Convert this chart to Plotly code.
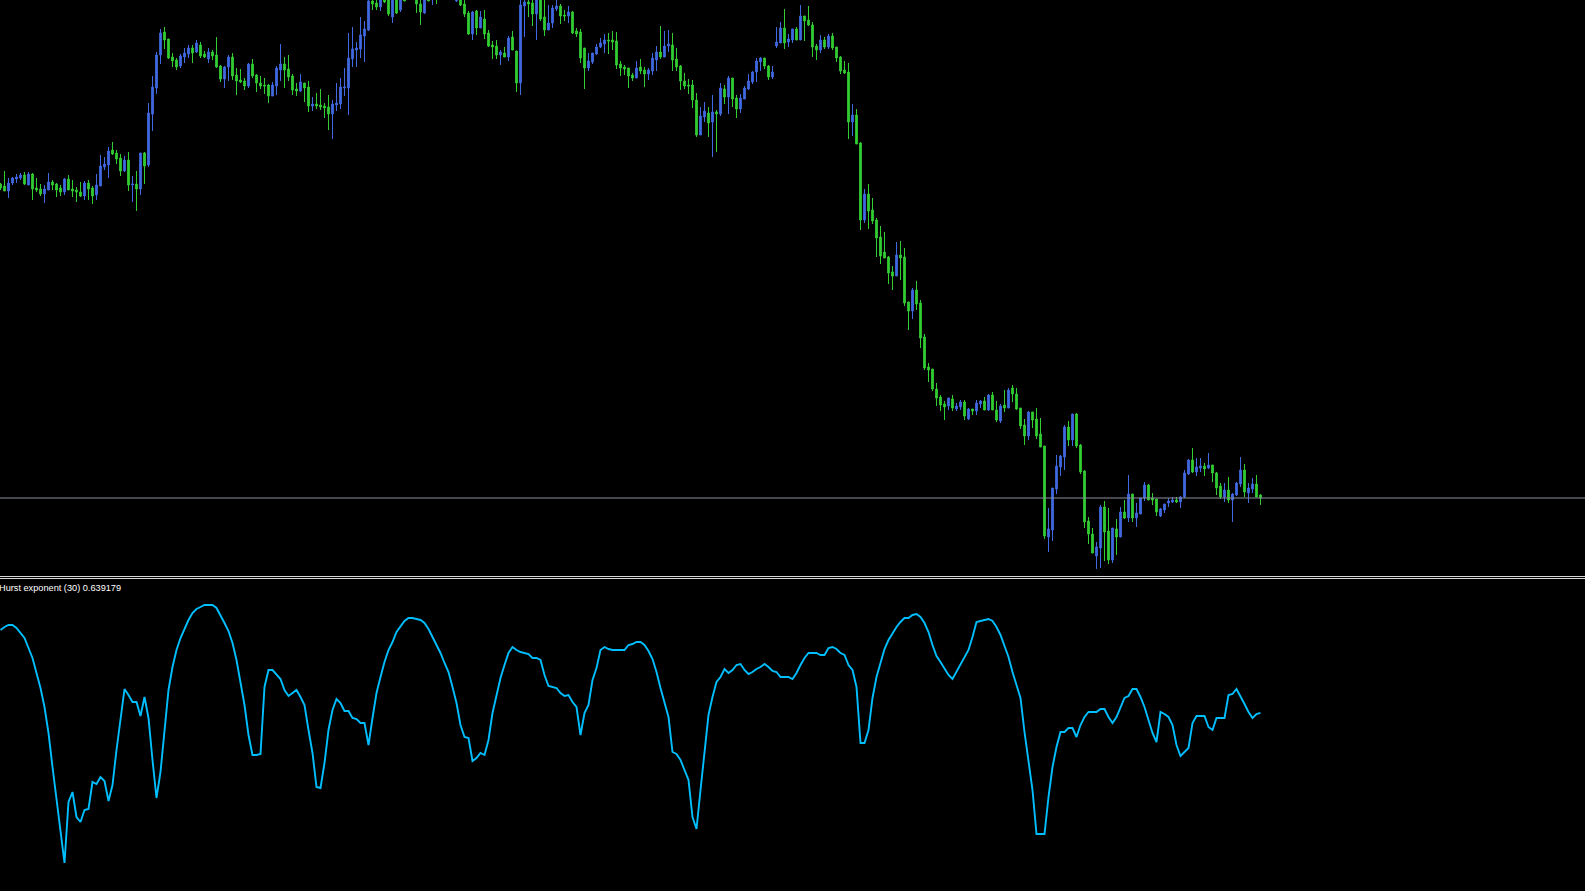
import plotly.graph_objects as go

# ---- price bars (one per candle, left to right) ----
open_ = [
 1.1416,1.1414,1.1409,1.1417,1.1421,1.1422,1.1425,1.1415,1.1426,1.1412,
 1.1411,1.1406,1.1410,1.1418,1.1416,1.1412,1.1408,1.1421,1.1411,1.1410,
 1.1408,1.1404,1.1417,1.1412,1.1405,1.1414,1.1433,1.1435,1.1450,1.1447,
 1.1442,1.1429,1.1440,1.1415,1.1416,1.1411,1.1447,1.1435,1.1486,1.1512,
 1.1545,1.1568,1.1561,1.1543,1.1540,1.1534,1.1543,1.1546,1.1552,1.1548,
 1.1555,1.1546,1.1541,1.1548,1.1545,1.1534,1.1521,1.1533,1.1543,1.1525,
 1.1520,1.1519,1.1514,1.1536,1.1525,1.1517,1.1515,1.1515,1.1504,1.1514,
 1.1530,1.1536,1.1531,1.1524,1.1511,1.1509,1.1517,1.1513,1.1494,1.1496,
 1.1495,1.1494,1.1493,1.1486,1.1495,1.1496,1.1512,1.1512,1.1541,1.1550,
 1.1551,1.1564,1.1570,1.1599,1.1597,1.1593,1.1605,1.1602,1.1583,1.1604,
 1.1590,1.1606,1.1608,1.1606,1.1606,1.1596,1.1587,1.1604,1.1602,1.1606,
 1.1610,1.1606,1.1609,1.1605,1.1599,1.1602,1.1596,1.1587,1.1566,1.1589,
 1.1572,1.1581,1.1567,1.1555,1.1554,1.1545,1.1547,1.1543,1.1563,1.1549,
 1.1517,1.1594,1.1598,1.1597,1.1586,1.1603,1.1583,1.1570,1.1577,1.1591,
 1.1594,1.1585,1.1584,1.1588,1.1569,1.1568,1.1552,1.1532,1.1538,1.1546,
 1.1553,1.1556,1.1560,1.1560,1.1559,1.1536,1.1533,1.1532,1.1525,1.1522,
 1.1533,1.1530,1.1526,1.1529,1.1540,1.1548,1.1543,1.1554,1.1555,1.1541,
 1.1534,1.1519,1.1515,1.1515,1.1500,1.1465,1.1483,1.1487,1.1478,1.1488,
 1.1486,1.1511,1.1503,1.1522,1.1502,1.1491,1.1501,1.1511,1.1518,1.1528,
 1.1538,1.1542,1.1534,1.1523,1.1554,1.1557,1.1572,1.1558,1.1560,1.1571,
 1.1560,1.1584,1.1580,1.1575,1.1554,1.1550,1.1560,1.1553,1.1564,1.1553,
 1.1543,1.1530,1.1528,1.1478,1.1485,1.1457,1.1380,1.1406,1.1390,1.1380,
 1.1363,1.1348,1.1343,1.1328,1.1324,1.1345,1.1343,1.1298,1.1289,1.1310,
 1.1297,1.1263,1.1233,1.1231,1.1211,1.1203,1.1196,1.1194,1.1201,1.1191,
 1.1193,1.1198,1.1181,1.1191,1.1189,1.1196,1.1199,1.1190,1.1205,1.1190,
 1.1179,1.1195,1.1192,1.1212,1.1206,1.1192,1.1175,1.1164,1.1188,1.1181,
 1.1166,1.1154,1.1063,1.1070,1.1111,1.1133,1.1143,1.1173,1.1160,1.1186,
 1.1155,1.1129,1.1079,1.1066,1.1044,1.1052,1.1093,1.1069,1.1040,1.1071,
 1.1063,1.1088,1.1082,1.1106,1.1082,1.1086,1.1102,1.1115,1.1102,1.1101,
 1.1084,1.1090,1.1097,1.1098,1.1100,1.1098,1.1103,1.1126,1.1140,1.1128,
 1.1132,1.1134,1.1132,1.1135,1.1127,1.1114,1.1103,1.1110,1.1100,1.1105,
 1.1116,1.1130,1.1107,1.1111,1.1116,1.1105]

close = [
 1.1412,1.1409,1.1417,1.1422,1.1423,1.1425,1.1416,1.1426,1.1411,1.1410,
 1.1406,1.1411,1.1418,1.1415,1.1410,1.1408,1.1421,1.1410,1.1409,1.1408,
 1.1404,1.1417,1.1411,1.1404,1.1415,1.1434,1.1436,1.1449,1.1446,1.1441,
 1.1429,1.1440,1.1415,1.1416,1.1411,1.1447,1.1434,1.1487,1.1513,1.1545,
 1.1567,1.1560,1.1542,1.1539,1.1533,1.1544,1.1547,1.1552,1.1547,1.1557,
 1.1544,1.1543,1.1548,1.1544,1.1533,1.1521,1.1533,1.1543,1.1524,1.1519,
 1.1518,1.1514,1.1536,1.1524,1.1517,1.1514,1.1514,1.1504,1.1515,1.1532,
 1.1536,1.1530,1.1523,1.1510,1.1509,1.1518,1.1512,1.1494,1.1496,1.1494,
 1.1493,1.1492,1.1486,1.1496,1.1497,1.1513,1.1513,1.1542,1.1551,1.1552,
 1.1565,1.1571,1.1599,1.1596,1.1593,1.1601,1.1598,1.1586,1.1603,1.1587,
 1.1602,1.1599,1.1604,1.1603,1.1596,1.1588,1.1602,1.1599,1.1608,1.1601,
 1.1606,1.1609,1.1605,1.1603,1.1604,1.1595,1.1586,1.1566,1.1588,1.1572,
 1.1583,1.1566,1.1554,1.1553,1.1545,1.1548,1.1543,1.1562,1.1550,1.1517,
 1.1595,1.1598,1.1596,1.1586,1.1601,1.1581,1.1570,1.1577,1.1592,1.1594,
 1.1584,1.1584,1.1588,1.1567,1.1566,1.1542,1.1532,1.1539,1.1547,1.1553,
 1.1557,1.1560,1.1559,1.1558,1.1535,1.1532,1.1531,1.1524,1.1522,1.1532,
 1.1529,1.1526,1.1530,1.1542,1.1548,1.1543,1.1554,1.1556,1.1540,1.1533,
 1.1519,1.1514,1.1514,1.1500,1.1465,1.1484,1.1489,1.1477,1.1488,1.1486,
 1.1512,1.1503,1.1522,1.1501,1.1491,1.1502,1.1512,1.1519,1.1528,1.1539,
 1.1542,1.1534,1.1523,1.1528,1.1558,1.1572,1.1557,1.1561,1.1571,1.1560,
 1.1584,1.1579,1.1575,1.1553,1.1550,1.1560,1.1553,1.1564,1.1552,1.1542,
 1.1529,1.1527,1.1478,1.1485,1.1456,1.1380,1.1406,1.1389,1.1379,1.1362,
 1.1344,1.1342,1.1327,1.1324,1.1345,1.1342,1.1297,1.1289,1.1310,1.1296,
 1.1262,1.1232,1.1230,1.1211,1.1202,1.1195,1.1193,1.1202,1.1192,1.1194,
 1.1198,1.1184,1.1191,1.1189,1.1197,1.1199,1.1190,1.1205,1.1190,1.1180,
 1.1194,1.1192,1.1210,1.1206,1.1191,1.1174,1.1164,1.1188,1.1180,1.1164,
 1.1153,1.1064,1.1071,1.1112,1.1134,1.1144,1.1173,1.1160,1.1186,1.1154,
 1.1128,1.1078,1.1066,1.1047,1.1053,1.1093,1.1068,1.1040,1.1072,1.1063,
 1.1088,1.1082,1.1106,1.1082,1.1087,1.1102,1.1115,1.1100,1.1100,1.1088,
 1.1091,1.1096,1.1099,1.1100,1.1098,1.1103,1.1127,1.1140,1.1128,1.1133,
 1.1134,1.1131,1.1135,1.1127,1.1112,1.1103,1.1110,1.1100,1.1106,1.1117,
 1.1130,1.1108,1.1112,1.1116,1.1103,1.1102]

high = [
 1.1417,1.1429,1.1422,1.1423,1.1426,1.1427,1.1428,1.1428,1.1427,1.1422,
 1.1416,1.1415,1.1427,1.1420,1.1417,1.1415,1.1422,1.1425,1.1420,1.1413,
 1.1418,1.1419,1.1420,1.1414,1.1426,1.1445,1.1443,1.1453,1.1458,1.1450,
 1.1446,1.1444,1.1448,1.1424,1.1429,1.1447,1.1448,1.1497,1.1524,1.1548,
 1.1571,1.1573,1.1561,1.1547,1.1542,1.1546,1.1552,1.1555,1.1555,1.1560,
 1.1558,1.1549,1.1552,1.1550,1.1563,1.1535,1.1534,1.1545,1.1547,1.1532,
 1.1531,1.1522,1.1537,1.1541,1.1526,1.1524,1.1522,1.1516,1.1518,1.1534,
 1.1556,1.1543,1.1545,1.1526,1.1517,1.1526,1.1517,1.1519,1.1503,1.1507,
 1.1511,1.1497,1.1505,1.1500,1.1517,1.1522,1.1532,1.1567,1.1573,1.1558,
 1.1583,1.1579,1.1602,1.1603,1.1601,1.1603,1.1608,1.1606,1.1606,1.1607,
 1.1605,1.1608,1.1612,1.1610,1.1609,1.1603,1.1606,1.1607,1.1610,1.1609,
 1.1614,1.1613,1.1612,1.1609,1.1607,1.1605,1.1600,1.1589,1.1589,1.1590,
 1.1589,1.1590,1.1570,1.1559,1.1560,1.1550,1.1553,1.1564,1.1569,1.1549,
 1.1601,1.1602,1.1603,1.1602,1.1604,1.1605,1.1601,1.1595,1.1595,1.1600,
 1.1596,1.1590,1.1594,1.1589,1.1572,1.1571,1.1552,1.1547,1.1547,1.1556,
 1.1562,1.1566,1.1567,1.1569,1.1568,1.1539,1.1535,1.1532,1.1527,1.1539,
 1.1541,1.1533,1.1532,1.1547,1.1554,1.1574,1.1569,1.1570,1.1567,1.1552,
 1.1535,1.1527,1.1521,1.1520,1.1507,1.1493,1.1498,1.1493,1.1505,1.1490,
 1.1517,1.1515,1.1524,1.1522,1.1505,1.1506,1.1514,1.1526,1.1529,1.1542,
 1.1543,1.1542,1.1535,1.1534,1.1573,1.1578,1.1591,1.1566,1.1571,1.1573,
 1.1595,1.1584,1.1594,1.1578,1.1556,1.1565,1.1563,1.1566,1.1567,1.1553,
 1.1544,1.1539,1.1537,1.1496,1.1491,1.1458,1.1411,1.1416,1.1402,1.1382,
 1.1374,1.1368,1.1344,1.1334,1.1358,1.1359,1.1352,1.1298,1.1312,1.1319,
 1.1300,1.1266,1.1237,1.1231,1.1217,1.1205,1.1199,1.1202,1.1205,1.1197,
 1.1200,1.1200,1.1192,1.1191,1.1200,1.1200,1.1203,1.1206,1.1208,1.1199,
 1.1196,1.1210,1.1212,1.1215,1.1212,1.1192,1.1181,1.1189,1.1188,1.1192,
 1.1182,1.1154,1.1092,1.1112,1.1145,1.1145,1.1175,1.1179,1.1186,1.1187,
 1.1156,1.1130,1.1083,1.1072,1.1058,1.1095,1.1099,1.1092,1.1072,1.1081,
 1.1093,1.1100,1.1125,1.1106,1.1097,1.1102,1.1118,1.1116,1.1107,1.1101,
 1.1092,1.1096,1.1102,1.1103,1.1103,1.1104,1.1130,1.1141,1.1152,1.1142,
 1.1142,1.1137,1.1147,1.1135,1.1128,1.1117,1.1117,1.1123,1.1107,1.1118,
 1.1143,1.1136,1.1117,1.1122,1.1125,1.1106]

low = [
 1.1410,1.1409,1.1402,1.1415,1.1417,1.1420,1.1415,1.1415,1.1400,1.1408,
 1.1404,1.1397,1.1410,1.1410,1.1403,1.1404,1.1405,1.1410,1.1403,1.1398,
 1.1403,1.1400,1.1400,1.1396,1.1400,1.1414,1.1430,1.1422,1.1445,1.1436,
 1.1424,1.1428,1.1409,1.1398,1.1389,1.1405,1.1416,1.1433,1.1469,1.1506,
 1.1536,1.1551,1.1541,1.1533,1.1530,1.1532,1.1537,1.1542,1.1537,1.1547,
 1.1542,1.1542,1.1537,1.1540,1.1532,1.1518,1.1512,1.1519,1.1520,1.1505,
 1.1517,1.1510,1.1512,1.1522,1.1508,1.1511,1.1506,1.1497,1.1504,1.1505,
 1.1519,1.1512,1.1519,1.1505,1.1504,1.1508,1.1498,1.1488,1.1489,1.1491,
 1.1490,1.1482,1.1470,1.1461,1.1489,1.1491,1.1504,1.1485,1.1533,1.1533,
 1.1542,1.1538,1.1569,1.1590,1.1590,1.1589,1.1597,1.1584,1.1577,1.1586,
 1.1588,1.1599,1.1602,1.1601,1.1587,1.1575,1.1586,1.1599,1.1595,1.1596,
 1.1603,1.1604,1.1602,1.1601,1.1598,1.1594,1.1583,1.1565,1.1560,1.1565,
 1.1572,1.1561,1.1553,1.1541,1.1541,1.1535,1.1543,1.1539,1.1550,1.1508,
 1.1505,1.1563,1.1583,1.1574,1.1560,1.1579,1.1564,1.1570,1.1572,1.1589,
 1.1576,1.1579,1.1577,1.1566,1.1563,1.1537,1.1511,1.1529,1.1536,1.1545,
 1.1552,1.1547,1.1546,1.1550,1.1531,1.1524,1.1525,1.1512,1.1519,1.1522,
 1.1526,1.1513,1.1520,1.1525,1.1529,1.1541,1.1543,1.1548,1.1529,1.1529,
 1.1510,1.1511,1.1506,1.1492,1.1463,1.1465,1.1478,1.1463,1.1443,1.1448,
 1.1484,1.1496,1.1486,1.1493,1.1482,1.1487,1.1501,1.1510,1.1516,1.1518,
 1.1529,1.1531,1.1520,1.1521,1.1552,1.1557,1.1551,1.1553,1.1557,1.1560,
 1.1560,1.1559,1.1574,1.1543,1.1540,1.1547,1.1551,1.1551,1.1550,1.1538,
 1.1526,1.1526,1.1461,1.1464,1.1456,1.1370,1.1377,1.1371,1.1376,1.1343,
 1.1336,1.1342,1.1316,1.1310,1.1324,1.1320,1.1294,1.1270,1.1281,1.1290,
 1.1252,1.1230,1.1218,1.1209,1.1194,1.1189,1.1180,1.1190,1.1189,1.1189,
 1.1190,1.1180,1.1180,1.1185,1.1185,1.1192,1.1190,1.1189,1.1190,1.1178,
 1.1177,1.1188,1.1192,1.1198,1.1190,1.1171,1.1155,1.1160,1.1172,1.1161,
 1.1153,1.1061,1.1048,1.1059,1.1106,1.1124,1.1130,1.1154,1.1154,1.1152,
 1.1126,1.1072,1.1056,1.1047,1.1031,1.1032,1.1039,1.1036,1.1037,1.1045,
 1.1063,1.1081,1.1078,1.1078,1.1073,1.1086,1.1099,1.1100,1.1095,1.1084,
 1.1083,1.1087,1.1093,1.1097,1.1097,1.1092,1.1102,1.1125,1.1127,1.1124,
 1.1128,1.1124,1.1131,1.1118,1.1105,1.1101,1.1098,1.1097,1.1078,1.1104,
 1.1113,1.1103,1.1097,1.1107,1.1103,1.1095]

# ---- Hurst exponent (30), one value per bar ----
hurst = [
 0.722,0.725,0.727,0.727,0.724,0.719,0.714,0.704,0.694,0.679,
 0.664,0.645,0.619,0.585,0.552,0.525,0.489,0.550,0.560,0.535,
 0.530,0.542,0.543,0.570,0.568,0.575,0.571,0.551,0.567,0.602,
 0.634,0.663,0.657,0.650,0.650,0.636,0.655,0.634,0.592,0.554,
 0.580,0.622,0.662,0.685,0.702,0.714,0.724,0.732,0.739,0.743,
 0.745,0.747,0.747,0.747,0.744,0.737,0.729,0.721,0.709,0.692,
 0.670,0.647,0.617,0.597,0.597,0.598,0.665,0.682,0.682,0.677,
 0.673,0.662,0.656,0.659,0.662,0.655,0.647,0.622,0.599,0.565,
 0.564,0.589,0.622,0.642,0.653,0.649,0.641,0.641,0.634,0.633,
 0.629,0.629,0.607,0.634,0.659,0.675,0.690,0.702,0.710,0.720,
 0.726,0.731,0.734,0.734,0.733,0.732,0.729,0.723,0.715,0.707,
 0.699,0.689,0.680,0.665,0.649,0.627,0.615,0.614,0.591,0.594,
 0.599,0.597,0.612,0.639,0.657,0.674,0.687,0.699,0.705,0.702,
 0.700,0.699,0.698,0.694,0.694,0.692,0.677,0.666,0.665,0.664,
 0.659,0.656,0.657,0.650,0.645,0.617,0.639,0.647,0.672,0.684,
 0.702,0.705,0.703,0.702,0.702,0.702,0.702,0.707,0.708,0.710,
 0.710,0.707,0.701,0.693,0.680,0.664,0.649,0.635,0.600,0.598,
 0.592,0.582,0.572,0.535,0.523,0.562,0.599,0.637,0.655,0.670,
 0.675,0.683,0.679,0.682,0.687,0.688,0.682,0.678,0.680,0.683,
 0.685,0.688,0.685,0.681,0.680,0.675,0.675,0.675,0.673,0.679,
 0.687,0.694,0.699,0.699,0.699,0.697,0.697,0.704,0.705,0.703,
 0.699,0.697,0.687,0.682,0.665,0.609,0.609,0.622,0.654,0.675,
 0.690,0.703,0.712,0.719,0.725,0.730,0.734,0.734,0.737,0.738,
 0.735,0.729,0.720,0.707,0.696,0.690,0.684,0.677,0.673,0.680,
 0.687,0.694,0.702,0.715,0.730,0.731,0.732,0.733,0.731,0.725,
 0.717,0.707,0.695,0.680,0.667,0.654,0.620,0.589,0.562,0.518,
 0.518,0.518,0.555,0.585,0.605,0.620,0.620,0.624,0.624,0.615,
 0.627,0.635,0.640,0.640,0.640,0.643,0.643,0.635,0.629,0.635,
 0.645,0.654,0.656,0.663,0.663,0.655,0.645,0.632,0.619,0.610,
 0.640,0.638,0.635,0.627,0.607,0.596,0.600,0.604,0.629,0.636,
 0.636,0.636,0.625,0.622,0.634,0.634,0.634,0.657,0.658,0.663,
 0.656,0.648,0.640,0.634,0.638,0.639179]

indicator_label = "Hurst exponent (30) 0.639179"

bars = list(range(len(close)))

BULL = "#4169E1"
BEAR = "#32CD32"

fig = go.Figure()
fig.add_trace(go.Candlestick(
    x=bars, open=open_, high=high, low=low, close=close,
    increasing=dict(line=dict(color=BULL, width=1), fillcolor=BULL),
    decreasing=dict(line=dict(color=BEAR, width=1), fillcolor=BEAR),
    whiskerwidth=0, xaxis="x", yaxis="y", showlegend=False, hoverinfo="skip"))
fig.add_trace(go.Scatter(
    x=bars, y=hurst, mode="lines",
    line=dict(color="#00BFFF", width=1.9),
    xaxis="x", yaxis="y2", showlegend=False, hoverinfo="skip"))

H = 891.0
fig.update_layout(
    width=1585, height=891,
    margin=dict(l=0, r=0, t=0, b=0, pad=0),
    paper_bgcolor="black", plot_bgcolor="black",
    showlegend=False, hovermode=False, boxgap=0.4,
    xaxis=dict(range=[-0.125, 396.125], visible=False, showgrid=False,
               zeroline=False, rangeslider=dict(visible=False), fixedrange=True),
    yaxis=dict(domain=[1 - 576 / H, 1], range=[1.1024, 1.1600], visible=False,
               showgrid=False, zeroline=False, fixedrange=True),
    yaxis2=dict(domain=[0, 312 / H], range=[0.461, 0.773], visible=False,
                showgrid=False, zeroline=False, anchor="x", fixedrange=True),
)

# panel separator (double line)
for ypx in (576.5, 578.5):
    fig.add_shape(type="line", xref="paper", yref="paper", x0=0, x1=1,
                  y0=1 - ypx / H, y1=1 - ypx / H,
                  line=dict(color="#d8d8d8", width=1))

# current price line at the last close
fig.add_shape(type="line", xref="paper", yref="y", x0=0, x1=1,
              y0=close[-1], y1=close[-1],
              line=dict(color="#8a909c", width=1))

fig.add_annotation(text=indicator_label, xref="paper", yref="paper",
                   x=0, y=1 - 588 / H, xanchor="left", yanchor="middle",
                   xshift=-2, borderpad=0,
                   showarrow=False, font=dict(family="Liberation Sans", size=9.2, color="white"))

fig.write_html("out.html", config={"displayModeBar": False, "staticPlot": True},
               post_script="document.body.style.margin='0';document.body.style.background='black';")
